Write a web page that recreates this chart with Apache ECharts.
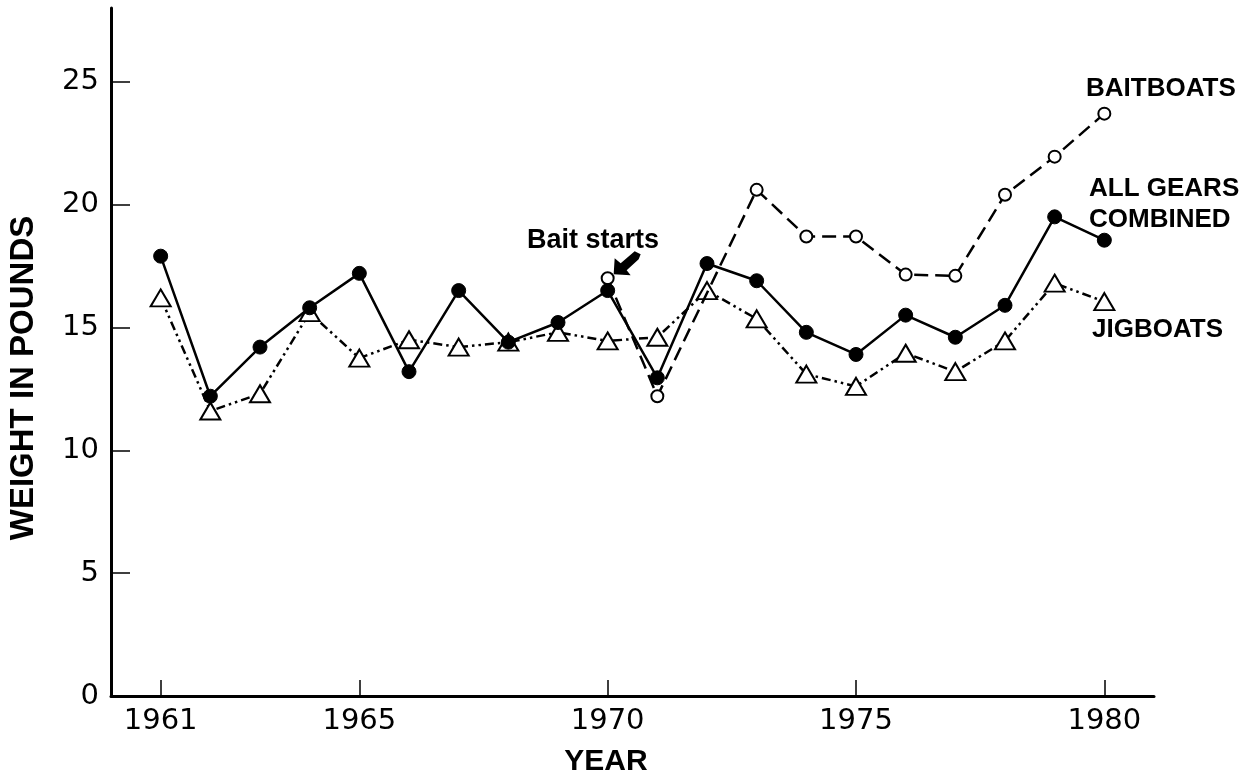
<!DOCTYPE html>
<html>
<head>
<meta charset="utf-8">
<title>Weight in pounds by year</title>
<script src="https://cdn.jsdelivr.net/npm/echarts@6/dist/echarts.min.js"></script>
<style>
html, body { margin: 0; padding: 0; background: #fff; }
#chart { width: 1256px; height: 777px; }
</style>
</head>
<body>
<div id="chart"></div>
<script>
// data
const years = [1961, 1962, 1963, 1964, 1965, 1966, 1967, 1968, 1969, 1970,
               1971, 1972, 1973, 1974, 1975, 1976, 1977, 1978, 1979, 1980];
const allGears = [17.9, 12.2, 14.2, 15.8, 17.2, 13.2, 16.5, 14.4, 15.2, 16.5,
                  12.95, 17.6, 16.9, 14.8, 13.9, 15.5, 14.6, 15.9, 19.5, 18.55];
const jigboats = [16.2, 11.6, 12.3, 15.6, 13.75, 14.5, 14.2, 14.4, 14.8, 14.45,
                  14.6, 16.5, 15.35, 13.1, 12.6, 13.95, 13.2, 14.45, 16.8, 16.05];
// bait fishing starts in 1970
const baitboats = [null, null, null, null, null, null, null, null, null, 17.0,
                   12.2, null, 20.6, 18.7, 18.7, 17.15, 17.1, 20.4, 21.95, 23.7];
const yearTicks = [1961, 1965, 1970, 1975, 1980];
const weightTicks = [0, 5, 10, 15, 20, 25];

const FONT = '"Liberation Sans", Arial, sans-serif';
const NUM_FONT = '"DejaVu Sans", sans-serif';

const pairs = arr => years.map((y, i) => [y, arr[i]]);

const chart = echarts.init(document.getElementById('chart'));
const option = {
    backgroundColor: '#fff',
    animation: false,
    grid: { left: 111, right: 102, top: 8, bottom: 81 },
    xAxis: {
        type: 'value',
        min: 1960,
        max: 1981,
        axisLine: { lineStyle: { color: '#000', width: 3 } },
        axisTick: { inside: true, length: 16, customValues: yearTicks, lineStyle: { color: '#000', width: 1.5 } },
        axisLabel: {
            customValues: yearTicks, color: '#000', fontFamily: NUM_FONT, fontSize: 29, margin: 11,
            formatter: v => String(v)
        },
        splitLine: { show: false }
    },
    yAxis: {
        type: 'value',
        min: 0,
        max: 28,
        axisLine: { show: true, lineStyle: { color: '#000', width: 3 } },
        axisTick: { show: true, inside: true, length: 19, customValues: weightTicks, lineStyle: { color: '#000', width: 1.5 } },
        axisLabel: { customValues: weightTicks, color: '#000', fontFamily: NUM_FONT, fontSize: 29, margin: 12 },
        splitLine: { show: false }
    },
    series: [
        {
            name: 'JIGBOATS',
            type: 'line',
            data: pairs(jigboats),
            symbol: 'triangle',
            symbolSize: [20, 17],
            itemStyle: { color: '#fff', borderColor: '#000', borderWidth: 2 },
            lineStyle: { color: '#000', width: 2.5, type: [9, 4, 2.5, 4, 2.5, 4] },
            z: 2
        },
        {
            name: 'BAITBOATS',
            type: 'line',
            data: pairs(baitboats),
            connectNulls: true,
            symbol: 'circle',
            symbolSize: 12,
            itemStyle: { color: '#fff', borderColor: '#000', borderWidth: 2 },
            lineStyle: { color: '#000', width: 2.5, type: [14, 7] },
            z: 3
        },
        {
            name: 'ALL GEARS COMBINED',
            type: 'line',
            data: pairs(allGears),
            symbol: 'circle',
            symbolSize: 14,
            itemStyle: { color: '#000', borderColor: '#000', borderWidth: 1 },
            lineStyle: { color: '#000', width: 2.5 },
            z: 4
        }
    ]
};
chart.setOption(option);

// annotations
const textStyle = (txt, size) => ({
    text: txt, fill: '#000', font: 'bold ' + size + 'px ' + FONT,
    textAlign: 'left', textVerticalAlign: 'middle'
});
const tip = chart.convertToPixel({ gridIndex: 0 }, [1970, baitboats[9]]);
chart.setOption({
    graphic: [
        { type: 'text', x: 24, y: 378, rotation: Math.PI / 2,
          style: Object.assign(textStyle('WEIGHT IN POUNDS', 33), { textAlign: 'center' }) },
        { type: 'text', x: 606, y: 762,
          style: Object.assign(textStyle('YEAR', 30), { textAlign: 'center' }) },
        { type: 'text', x: 1086, y: 89, style: textStyle('BAITBOATS', 26) },
        { type: 'text', x: 1089, y: 189, style: textStyle('ALL GEARS', 26) },
        { type: 'text', x: 1089, y: 220, style: textStyle('COMBINED', 26) },
        { type: 'text', x: 1092, y: 330, style: textStyle('JIGBOATS', 26) },
        { type: 'text', x: 527, y: 241, style: textStyle('Bait starts', 27) },
        // curved arrow pointing at the first baitboat point
        { type: 'polygon', x: tip[0] + 6, y: tip[1] - 4,
          shape: { points: [[0, 0], [1, -16], [7, -11], [21, -23], [27, -20], [25, -15], [13, -4], [17, 1]] },
          style: { fill: '#000' } }
    ]
});
</script>
</body>
</html>
